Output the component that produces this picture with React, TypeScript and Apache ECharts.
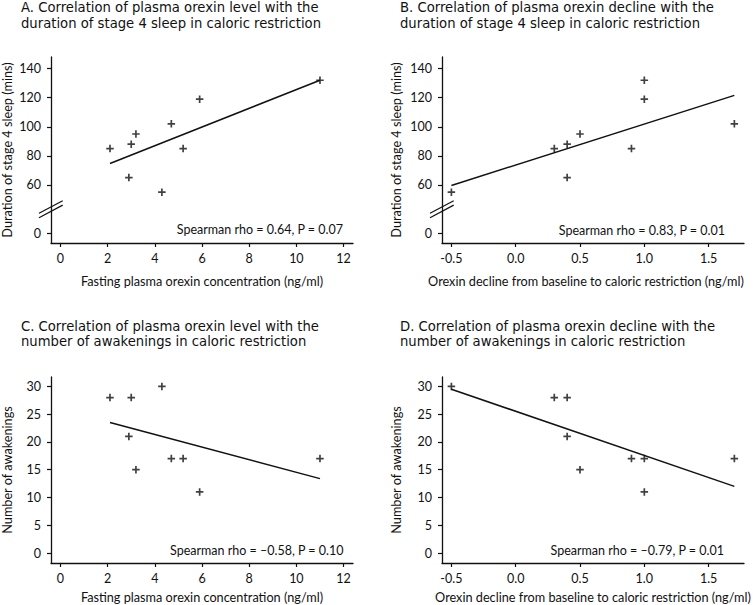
import React, { useEffect, useRef } from "react";
import * as echarts from "echarts";

// ---- data (one entry per subject) ----
const orexinLevel = [2.1, 2.9, 3.0, 3.2, 4.3, 4.7, 5.2, 5.9, 11.0];
const orexinDecline = [0.3, 0.4, 0.4, 0.5, -0.5, 1.7, 0.9, 1.0, 1.0];
const stage4Sleep = [85, 65, 88, 95, 55, 102, 85, 119, 132];
const awakenings = [28, 21, 28, 15, 30, 17, 17, 11, 17];

// fitted regression lines (end points)
const trendA = [[2.1, 74.7], [11.0, 132]];
const trendB = [[-0.5, 59.6], [1.7, 121.6]];
const trendC = [[2.1, 23.5], [11.0, 13.4]];
const trendD = [[-0.5, 29.5], [1.7, 12.0]];

// tick labels
const levelTicks = [0, 2, 4, 6, 8, 10, 12];
const declineTicks = [-0.5, 0.0, 0.5, 1.0, 1.5];
const sleepTicks = [0, 60, 80, 100, 120, 140];
const awakeTicks = [0, 5, 10, 15, 20, 25, 30];

const titles = [
  "A. Correlation of plasma orexin level with the\nduration of stage 4 sleep in caloric restriction",
  "B. Correlation of plasma orexin decline with the\nduration of stage 4 sleep in caloric restriction",
  "C. Correlation of plasma orexin level with the\nnumber of awakenings in caloric restriction",
  "D. Correlation of plasma orexin decline with the\nnumber of awakenings in caloric restriction",
];
const stats = [
  "Spearman rho = 0.64, P = 0.07",
  "Spearman rho = 0.83, P = 0.01",
  "Spearman rho = \u20130.58, P = 0.10",
  "Spearman rho = \u20130.79, P = 0.01",
];
const xNames = [
  "Fasting plasma orexin concentration (ng/ml)",
  "Orexin decline from baseline to caloric restriction (ng/ml)",
];
const yNames = ["Duration of stage 4 sleep (mins)", "Number of awakenings"];

// broken sleep axis: values below the break are drawn just under it
const BREAK_ZERO = 26.6;
const toSleepAxis = (v: number) => (v < 50 ? BREAK_ZERO + v : v);
const fromSleepAxis = (v: number) => (v < 50 ? Math.round(v - BREAK_ZERO) : Math.round(v));

const FONT = "Lato, 'Open Sans', sans-serif";
const TITLE_FONT = "'DejaVu Sans', sans-serif";
const INK = "#111";
const PLUS = "path://M2.9,0H4.6V2.9H7.5V4.6H4.6V7.5H2.9V4.6H0V2.9H2.9Z";

export default function App() {
  const ref = useRef<HTMLDivElement>(null);
  useEffect(() => {
    if (!ref.current) return;
    const chart = echarts.init(ref.current, null, { renderer: "svg" });

    const grids = [
      { left: 51, top: 57, width: 302, height: 186 },
      { left: 442, top: 57, width: 302, height: 186 },
      { left: 51, top: 377, width: 302, height: 186 },
      { left: 442, top: 377, width: 302, height: 186 },
    ].map((g) => ({ ...g, outerBoundsMode: "none", containLabel: false }));

    const axisCommon = (gridIndex: number) => ({
      gridIndex,
      type: "value",
      splitLine: { show: false },
      nameMoveOverlap: false,
      axisLine: { show: true, onZero: false, lineStyle: { color: INK, width: 1.3 } },
      nameTextStyle: { color: INK, fontFamily: FONT, fontSize: 12.7 },
    });

    const xAxisFor = (gridIndex: number, level: boolean, nameGap: number, shiftLeft: number) => {
      const ticks = level ? levelTicks : declineTicks;
      return {
        ...axisCommon(gridIndex),
        min: level ? -0.4 : -0.573,
        max: level ? 12.4 : 1.775,
        name: level ? xNames[0] : xNames[1],
        nameLocation: "middle",
        nameGap,
        nameTextStyle: {
          color: INK,
          fontFamily: FONT,
          fontSize: 12.7,
          padding: [0, shiftLeft, 0, 0],
        },
        axisTick: { show: true, customValues: ticks, length: 4, lineStyle: { color: INK, width: 1.2 } },
        axisLabel: {
          customValues: ticks,
          margin: 9,
          color: INK,
          fontFamily: FONT,
          fontSize: 12.5,
          formatter: (v: number) => (level ? String(v) : v.toFixed(1)),
        },
      };
    };

    const yAxisFor = (gridIndex: number, sleep: boolean, nameGap: number) => {
      const ticks = sleep ? sleepTicks.map(toSleepAxis) : awakeTicks;
      return {
        ...axisCommon(gridIndex),
        min: sleep ? 20 : -1.8,
        max: sleep ? 148 : 31.7,
        name: sleep ? yNames[0] : yNames[1],
        nameLocation: "middle",
        nameGap,
        axisTick: { show: true, customValues: ticks, length: 4, lineStyle: { color: INK, width: 1.2 } },
        axisLabel: {
          customValues: ticks,
          margin: 10,
          color: INK,
          fontFamily: FONT,
          fontSize: 12.5,
          formatter: (v: number) => String(sleep ? fromSleepAxis(v) : v),
        },
      };
    };

    const pts = (xs: number[], ys: number[]) => xs.map((x, i) => [x, ys[i]]);

    const scatter = (i: number, data: number[][]) => ({
      type: "scatter",
      xAxisIndex: i,
      yAxisIndex: i,
      data,
      symbol: PLUS,
      symbolSize: 7.5,
      itemStyle: { color: INK },
      silent: true,
    });
    const trend = (i: number, data: number[][]) => ({
      type: "line",
      xAxisIndex: i,
      yAxisIndex: i,
      data,
      symbol: "none",
      showSymbol: false,
      lineStyle: { color: INK, width: 1.5 },
      silent: true,
    });

    const titlePos = [
      [21, 0],
      [400, 0],
      [21, 318.5],
      [400, 318.5],
    ];
    const statPos = [
      [343, 229.5],
      [725, 230],
      [343.5, 550],
      [724, 550.5],
    ];
    const graphics: any[] = [];
    titles.forEach((t, i) => {
      graphics.push({
        type: "text",
        x: titlePos[i][0],
        y: titlePos[i][1],
        style: {
          text: t,
          fill: INK,
          font: `13.2px ${TITLE_FONT}`,
          lineHeight: 15.5,
          verticalAlign: "top",
          align: "left",
        },
      });
    });
    stats.forEach((s, i) => {
      graphics.push({
        type: "text",
        x: statPos[i][0],
        y: statPos[i][1],
        style: { text: s, fill: INK, font: `12.5px ${FONT}`, verticalAlign: "middle", align: "right" },
      });
    });
    // axis break marks "//"
    [51.3, 442.3].forEach((ax) => {
      [0, 4.4].forEach((dy) => {
        graphics.push({
          type: "line",
          shape: { x1: ax - 12.3, y1: 213.3 + dy, x2: ax + 11.4, y2: 200.7 + dy },
          style: { stroke: INK, lineWidth: 1.2 },
        });
      });
    });

    chart.setOption({
      animation: false,
      backgroundColor: "#fff",
      textStyle: { fontFamily: FONT, color: INK },
      grid: grids,
      xAxis: [
        xAxisFor(0, true, 31, 0),
        xAxisFor(1, false, 31, 14),
        xAxisFor(2, true, 27, 0),
        xAxisFor(3, false, 27, 0),
      ],
      yAxis: [
        yAxisFor(0, true, 38),
        yAxisFor(1, true, 40),
        yAxisFor(2, false, 38),
        yAxisFor(3, false, 40),
      ],
      series: [
        scatter(0, pts(orexinLevel, stage4Sleep)),
        trend(0, trendA),
        scatter(1, pts(orexinDecline, stage4Sleep)),
        trend(1, trendB),
        scatter(2, pts(orexinLevel, awakenings)),
        trend(2, trendC),
        scatter(3, pts(orexinDecline, awakenings)),
        trend(3, trendD),
      ],
      graphic: graphics,
    });
    return () => chart.dispose();
  }, []);
  return (
    <div
      ref={ref}
      style={{ position: "absolute", left: 0, top: 0, width: 755, height: 605, background: "#fff" }}
    />
  );
}
